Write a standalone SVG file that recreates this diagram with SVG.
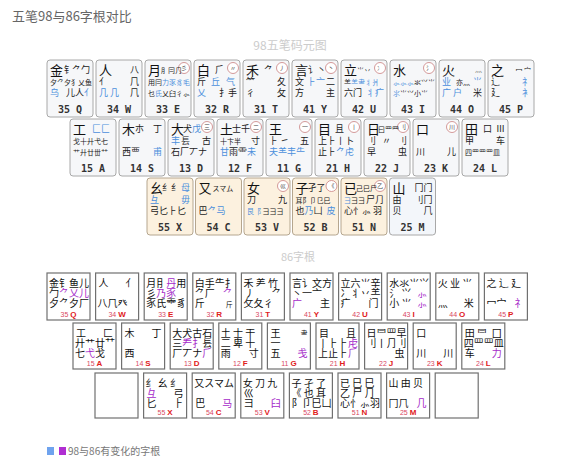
<svg xmlns="http://www.w3.org/2000/svg" width="580" height="473" viewBox="0 0 580 473">
<style>
text{font-family:"Noto Sans CJK SC","Noto Sans CJK JP",sans-serif}
.kb{fill:#f6f7f9;stroke:#a8a8a8;stroke-width:1}
.kw{fill:#fcf1df;stroke:#b5a68f;stroke-width:1}
.km{fill:#f3f6fa;stroke:#a8a8a8;stroke-width:1}
.m{font-size:13px;fill:#111}
.s{font-size:9px;fill:#222}
.t{font-size:7px;fill:#222}
.e{text-anchor:end}
.b{fill:#4b8fdc}
.p{fill:#a52bc9}
.lb{font-family:"DejaVu Sans Mono",monospace;font-size:10px;font-weight:bold;fill:#333;text-anchor:middle}
.ci{fill:#fff;stroke:#c98080;stroke-width:0.8}
.ct{font-size:6px;fill:#444;text-anchor:middle}
.k6{fill:#fff;stroke:#707070;stroke-width:1.2}
.c6{font-size:10px;fill:#111}
.l6{font-family:"Liberation Sans",sans-serif;text-anchor:middle}
.n6{font-size:7px;fill:#d9485f}
.r6{font-size:8px;font-weight:bold;fill:#e0201c}
.hd{font-size:12px;fill:#cccccc}
</style>

<text x="12" y="21" style="font-size:13px;fill:#666">五笔98与86字根对比</text>
<text x="290" y="50" class="hd" text-anchor="middle">98五笔码元图</text>
<text x="298" y="261" class="hd" style="font-size:11px" text-anchor="middle">86字根</text>

<!-- 98 row 1 -->
<g id="k98-Q" transform="translate(47,60)"><rect class="kb" width="46" height="57" rx="3"/>
<text><tspan class="m" x="3" y="15">金</tspan><tspan class="s" x="17" y="13">钅</tspan><tspan class="s e" x="43" y="13">⺈勹</tspan><tspan class="t" x="3" y="25">夕⺈夕犭乂鱼</tspan><tspan class="s b" x="3" y="36">乌</tspan><tspan class="s" x="19" y="36">儿人<tspan class="b">⺅</tspan></tspan></text>
<text class="lb" x="23" y="53">35 Q</text></g>

<g id="k98-W" transform="translate(96,60)"><rect class="kb" width="46" height="57" rx="3"/>
<text><tspan class="m" x="3" y="15">人</tspan><tspan class="s e" x="43" y="13">八</tspan><tspan class="s" x="3" y="25">亻</tspan><tspan class="s e" x="43" y="25">⺇</tspan><tspan class="s b" x="3" y="36">几 几</tspan><tspan class="s e" x="43" y="36">⺇</tspan></text>
<text class="lb" x="23" y="53">34 W</text></g>

<g id="k98-E" transform="translate(145,60)"><rect class="kb" width="46" height="57" rx="3"/>
<circle class="ci" cx="39" cy="8" r="5.5"/>
<text><tspan class="m" x="3" y="15">月</tspan><tspan class="t" x="16" y="13">⺼冃⺆</tspan><tspan class="ct" x="39" y="10">彡</tspan><tspan class="t" x="3" y="25">用冃<tspan class="b">力豕豸毛</tspan></tspan><tspan class="t" x="3" y="36">乜<tspan class="b">氏</tspan>乂臼彳⺗</tspan></text>
<text class="lb" x="23" y="53">33 E</text></g>

<g id="k98-R" transform="translate(194,60)"><rect class="kb" width="46" height="57" rx="3"/>
<circle class="ci" cx="39" cy="8" r="5.5"/>
<text><tspan class="m" x="3" y="15">白</tspan><tspan class="s" x="21" y="13">⺁</tspan><tspan class="ct" x="39" y="10">〃</tspan><tspan class="s" x="3" y="25">斤</tspan><tspan class="s b" x="17" y="25">丘</tspan><tspan class="s b" x="32" y="25">气</tspan><tspan class="s b" x="3" y="36">乂</tspan><tspan class="s e" x="43" y="36">扌手</tspan></text>
<text class="lb" x="23" y="53">32 R</text></g>

<g id="k98-T" transform="translate(243,60)"><rect class="kb" width="46" height="57" rx="3"/>
<circle class="ci" cx="39" cy="8" r="5.5"/>
<text><tspan class="m" x="3" y="15">禾</tspan><tspan class="s" x="21" y="13">⺈</tspan><tspan class="ct" x="39" y="10">丿</tspan><tspan class="s" x="3" y="25">⺮</tspan><tspan class="s e" x="43" y="25">夂</tspan><tspan class="s" x="3" y="36">彳</tspan><tspan class="s e" x="43" y="36">攵</tspan></text>
<text class="lb" x="23" y="53">31 T</text></g>

<g id="k98-Y" transform="translate(292,60)"><rect class="kb" width="46" height="57" rx="3"/>
<circle class="ci" cx="39" cy="8" r="5.5"/>
<text><tspan class="m" x="3" y="15">言</tspan><tspan class="s" x="16" y="13">讠丶</tspan><tspan class="ct" x="39" y="10">丶</tspan><tspan class="s" x="3" y="25">文</tspan><tspan class="s b" x="15" y="25">⺊亠</tspan><tspan class="s e" x="43" y="25">二</tspan><tspan class="s" x="3" y="36">方</tspan><tspan class="s e" x="43" y="36">主</tspan></text>
<text class="lb" x="23" y="53">41 Y</text></g>

<g id="k98-U" transform="translate(341,60)"><rect class="kb" width="46" height="57" rx="3"/>
<circle class="ci" cx="39" cy="8" r="5.5"/>
<text><tspan class="m" x="3" y="15">立</tspan><tspan class="t" x="16" y="13">⺌丷</tspan><tspan class="ct" x="39" y="10">冫</tspan><tspan class="t" x="3" y="25">⺷<tspan class="b">⺷⺻丬爿</tspan></tspan><tspan class="s" x="3" y="36">六门</tspan><tspan class="s b e" x="43" y="36">丬疒</tspan></text>
<text class="lb" x="23" y="53">42 U</text></g>

<g id="k98-I" transform="translate(390,60)"><rect class="kb" width="46" height="57" rx="3"/>
<circle class="ci" cx="39" cy="8" r="5.5"/>
<text><tspan class="m" x="3" y="15">水</tspan><tspan class="ct" x="39" y="10">氵</tspan><tspan class="t" x="3" y="25"><tspan class="b">⺗⺗⺗</tspan>氺⺍⺌</tspan><tspan class="t" x="3" y="36"><tspan class="b">⺢</tspan>⺌⺍小⺌</tspan></text>
<text class="lb" x="23" y="53">43 I</text></g>

<g id="k98-O" transform="translate(439,60)"><rect class="kb" width="46" height="57" rx="3"/>
<text><tspan class="m" x="3" y="15">火</tspan><tspan class="t e" x="43" y="12" style="fill:#777">灬</tspan><tspan class="s b" x="3" y="25">业</tspan><tspan class="t" x="17" y="25">亦⺣</tspan><tspan class="s b e" x="43" y="25">⺌</tspan><tspan class="s b" x="3" y="36">广 户</tspan><tspan class="s e" x="43" y="36">米</tspan></text>
<text class="lb" x="23" y="53">44 O</text></g>

<g id="k98-P" transform="translate(488,60)"><rect class="kb" width="46" height="57" rx="3"/>
<text><tspan class="m" x="3" y="15">之</tspan><tspan class="t e" x="43" y="13">冖 宀</tspan><tspan class="s" x="3" y="25">辶</tspan><tspan class="s b e" x="43" y="25">礻</tspan><tspan class="s" x="3" y="36">廴</tspan><tspan class="s b e" x="43" y="36">衤</tspan></text>
<text class="lb" x="23" y="53">45 P</text></g>

<!-- 98 row 2 -->
<g id="k98-A" transform="translate(70,119)"><rect class="kb" width="46" height="57" rx="3"/>
<text><tspan class="m" x="3" y="15">工</tspan><tspan class="s b" x="22" y="13">匚⼕</tspan><tspan class="t" x="3" y="25">戈十廾弋七</tspan><tspan class="t" x="3" y="36">艹廾廿丗⺿</tspan></text>
<text class="lb" x="23" y="53">15 A</text></g>

<g id="k98-S" transform="translate(119,119)"><rect class="kb" width="46" height="57" rx="3"/>
<text><tspan class="m" x="3" y="15">木</tspan><tspan class="s" x="16" y="13">朩</tspan><tspan class="s e" x="43" y="13">丁</tspan><tspan class="s" x="3" y="36">西覀</tspan><tspan class="s b e" x="43" y="36">甫</tspan></text>
<text class="lb" x="23" y="53">14 S</text></g>

<g id="k98-D" transform="translate(168,119)"><rect class="kb" width="46" height="57" rx="3"/>
<circle class="ci" cx="39" cy="8" r="5.5"/>
<text><tspan class="m" x="3" y="15">大</tspan><tspan class="s" x="15" y="13">犬<tspan class="b">戊</tspan></tspan><tspan class="ct" x="39" y="10">三</tspan><tspan class="s b" x="3" y="25">丰</tspan><tspan class="s" x="13" y="25">镸</tspan><tspan class="s e" x="43" y="25">古</tspan><tspan class="s" x="3" y="36">石厂丆ナ</tspan></text>
<text class="lb" x="23" y="53">13 D</text></g>

<g id="k98-F" transform="translate(217,119)"><rect class="kb" width="46" height="57" rx="3"/>
<circle class="ci" cx="39" cy="8" r="5.5"/>
<text><tspan class="m" x="3" y="15">土</tspan><tspan class="s" x="15" y="13">士千</tspan><tspan class="ct" x="39" y="10">二</tspan><tspan class="t" x="3" y="25">十卞半</tspan><tspan class="s e" x="43" y="25">寸</tspan><tspan class="s" x="3" y="36"><tspan class="b">甘</tspan>雨⻗<tspan class="b">未</tspan></tspan></text>
<text class="lb" x="23" y="53">12 F</text></g>

<g id="k98-G" transform="translate(266,119)"><rect class="kb" width="46" height="57" rx="3"/>
<circle class="ci" cx="39" cy="8" r="5.5"/>
<text><tspan class="m" x="3" y="15">王</tspan><tspan class="ct" x="39" y="10">一</tspan><tspan class="s" x="3" y="25">⺊ ㇀</tspan><tspan class="s e" x="43" y="25">五</tspan><tspan class="s b" x="3" y="36">夫⺷丰⺧</tspan></text>
<text class="lb" x="23" y="53">11 G</text></g>

<g id="k98-H" transform="translate(315,119)"><rect class="kb" width="46" height="57" rx="3"/>
<circle class="ci" cx="39" cy="8" r="5.5"/>
<text><tspan class="m" x="3" y="15">目</tspan><tspan class="s" x="20" y="13">且</tspan><tspan class="ct" x="39" y="10">丨</tspan><tspan class="s" x="3" y="25">上⺊丨卜</tspan><tspan class="s" x="3" y="36">止⺊<tspan class="b">⺈虍</tspan></tspan></text>
<text class="lb" x="23" y="53">21 H</text></g>

<g id="k98-J" transform="translate(364,119)"><rect class="kb" width="46" height="57" rx="3"/>
<circle class="ci" cx="39" cy="8" r="5.5"/>
<text><tspan class="m" x="3" y="15">日</tspan><tspan class="t" x="14" y="13">曰罒⺫</tspan><tspan class="ct" x="39" y="10">刂</tspan><tspan class="s" x="3" y="25">⺉</tspan><tspan class="s" x="18" y="25">〃</tspan><tspan class="s e" x="43" y="25">刂</tspan><tspan class="s" x="3" y="36">早</tspan><tspan class="s e" x="43" y="36">虫</tspan></text>
<text class="lb" x="23" y="53">22 J</text></g>

<g id="k98-K" transform="translate(413,119)"><rect class="kb" width="46" height="57" rx="3"/>
<circle class="ci" cx="39" cy="8" r="5.5"/>
<text><tspan class="m" x="3" y="15">口</tspan><tspan class="ct" x="39" y="10">川</tspan><tspan class="s" x="3" y="36">川</tspan><tspan class="s e" x="43" y="36">儿</tspan></text>
<text class="lb" x="23" y="53">23 K</text></g>

<g id="k98-L" transform="translate(462,119)"><rect class="kb" width="46" height="57" rx="3"/>
<text><tspan class="m" x="3" y="15">田</tspan><tspan class="s" x="21" y="13">口</tspan><tspan class="s e" x="43" y="13">Ⅲ</tspan><tspan class="s" x="3" y="25">甲</tspan><tspan class="s e" x="43" y="25">车</tspan><tspan class="t" x="3" y="36">四罒罒罒皿</tspan></text>
<text class="lb" x="23" y="53">24 L</text></g>

<!-- 98 row 3 -->
<g id="k98-X" transform="translate(147,178)"><rect class="kw" width="46" height="57" rx="3"/>
<text><tspan class="m" x="3" y="15">幺</tspan><tspan class="s" x="15" y="13">纟纟</tspan><tspan class="s b e" x="43" y="13">母</tspan><tspan class="s b" x="3" y="25">彑</tspan><tspan class="s b e" x="43" y="25">毋</tspan><tspan class="s" x="3" y="36">弓匕⺊匕</tspan></text>
<text class="lb" x="23" y="53">55 X</text></g>

<g id="k98-C" transform="translate(195.5,178)"><rect class="kw" width="46" height="57" rx="3"/>
<text><tspan class="m" x="3" y="15">又</tspan><tspan class="t" x="17" y="13">スマム</tspan><tspan class="s" x="3" y="36">巴<tspan class="b">⺈马</tspan></tspan></text>
<text class="lb" x="23" y="53">54 C</text></g>

<g id="k98-V" transform="translate(244,178)"><rect class="kw" width="46" height="57" rx="3"/>
<circle class="ci" cx="39" cy="8" r="5.5"/>
<text><tspan class="m" x="3" y="15">女</tspan><tspan class="ct" x="39" y="10">巛</tspan><tspan class="s" x="3" y="25">刀</tspan><tspan class="s e" x="43" y="25">九</tspan><tspan class="t" x="3" y="36"><tspan class="b">艮⻏</tspan> 彐⺕⺕</tspan></text>
<text class="lb" x="23" y="53">53 V</text></g>

<g id="k98-B" transform="translate(292.5,178)"><rect class="kw" width="46" height="57" rx="3"/>
<circle class="ci" cx="39" cy="8" r="5.5"/>
<text><tspan class="m" x="3" y="15">子</tspan><tspan class="s" x="15" y="13">孑了</tspan><tspan class="ct" x="39" y="10">《</tspan><tspan class="t" x="3" y="25">耳阝卩⺋巳</tspan><tspan class="s" x="3" y="36">也<tspan class="b">乃</tspan>凵</tspan><tspan class="s b e" x="43" y="36">皮</tspan></text>
<text class="lb" x="23" y="53">52 B</text></g>

<g id="k98-N" transform="translate(341,178)"><rect class="kw" width="46" height="57" rx="3"/>
<circle class="ci" cx="39" cy="8" r="5.5"/>
<text><tspan class="m" x="3" y="15">已</tspan><tspan class="t" x="15" y="13">己巳尸</tspan><tspan class="ct" x="39" y="10">乙</tspan><tspan class="t" x="3" y="25"><tspan class="b">⺕</tspan>⺕⺕</tspan><tspan class="s e" x="43" y="25">尸⺆</tspan><tspan class="s" x="3" y="36">心忄⺗ 羽</tspan></text>
<text class="lb" x="23" y="53">51 N</text></g>

<g id="k98-M" transform="translate(389.5,178)"><rect class="km" width="46" height="57" rx="3"/>
<text><tspan class="m" x="3" y="15">山</tspan><tspan class="s e" x="43" y="13">冂门</tspan><tspan class="s" x="3" y="25">由</tspan><tspan class="s e" x="43" y="25">刂冂</tspan><tspan class="s" x="3" y="36">贝</tspan><tspan class="s e" x="43" y="36">⺇</tspan></text>
<text class="lb" x="23" y="53">25 M</text></g>

<!-- 86 row 1 -->
<g id="k86-Q" transform="translate(47,273)"><rect class="k6" width="43" height="47"/>
<text class="c6"><tspan x="2" y="14">金钅鱼儿</tspan><tspan x="2" y="24">勹<tspan class="p">⺈乂儿</tspan></tspan><tspan x="2" y="34">夕⺈夕厂</tspan><tspan class="l6" x="21.5" y="44"><tspan class="n6">35 </tspan><tspan class="r6">Q</tspan></tspan></text></g>

<g id="k86-W" transform="translate(95.6,273)"><rect class="k6" width="43" height="47"/>
<text class="c6"><tspan x="3" y="14">人</tspan><tspan class="e" x="40" y="14">亻</tspan><tspan x="2" y="34">八⺇癶</tspan><tspan class="l6" x="21.5" y="44"><tspan class="n6">34 </tspan><tspan class="r6">W</tspan></tspan></text></g>

<g id="k86-E" transform="translate(144.2,273)"><rect class="k6" width="43" height="47"/>
<text class="c6"><tspan x="2" y="14">月⺝<tspan class="p">丹</tspan>用</tspan><tspan x="2" y="24">彡<tspan class="p">乃豕</tspan></tspan><tspan x="2" y="34">豕氏⻗豸</tspan><tspan class="l6" x="21.5" y="44"><tspan class="n6">33 </tspan><tspan class="r6">E</tspan></tspan></text></g>

<g id="k86-R" transform="translate(192.8,273)"><rect class="k6" width="43" height="47"/>
<text class="c6"><tspan x="2" y="14">白手⺧扌</tspan><tspan x="2" y="24">⺈厂</tspan><tspan class="p e" x="40" y="24">⺈</tspan><tspan x="2" y="34">斤</tspan><tspan class="e" x="40" y="34" style="font-size:7px">斤</tspan><tspan class="l6" x="21.5" y="44"><tspan class="n6">32 </tspan><tspan class="r6">R</tspan></tspan></text></g>

<g id="k86-T" transform="translate(241.4,273)"><rect class="k6" width="43" height="47"/>
<text class="c6"><tspan x="2" y="14">禾 ⺶ 竹</tspan><tspan x="3" y="24">丿</tspan><tspan class="e" x="40" y="24">⺈</tspan><tspan x="2" y="34">攵夂彳</tspan><tspan class="l6" x="21.5" y="44"><tspan class="n6">31 </tspan><tspan class="r6">T</tspan></tspan></text></g>

<g id="k86-Y" transform="translate(290,273)"><rect class="k6" width="43" height="47"/>
<text class="c6"><tspan x="2" y="14">言讠文方</tspan><tspan x="2" y="24">丶一亠</tspan><tspan class="p" x="2" y="34">广</tspan><tspan class="e" x="40" y="34">主</tspan><tspan class="l6" x="21.5" y="44"><tspan class="n6">41 </tspan><tspan class="r6">Y</tspan></tspan></text></g>

<g id="k86-U" transform="translate(338.6,273)"><rect class="k6" width="43" height="47"/>
<text class="c6"><tspan x="2" y="14">立六⺌辛</tspan><tspan x="2" y="24">冫⺦丷⺷</tspan><tspan x="2" y="34">疒</tspan><tspan class="e" x="40" y="34">门</tspan><tspan class="l6" x="21.5" y="44"><tspan class="n6">42 </tspan><tspan class="r6">U</tspan></tspan></text></g>

<g id="k86-I" transform="translate(387.2,273)"><rect class="k6" width="43" height="47"/>
<text class="c6"><tspan x="2" y="14">水氺⺌⺍</tspan><tspan x="2" y="24">氵 ⺍</tspan><tspan class="p e" x="40" y="24">⺗</tspan><tspan x="2" y="34">小 ⺌</tspan><tspan class="p e" x="40" y="34">⺗</tspan><tspan class="l6" x="21.5" y="44"><tspan class="n6">43 </tspan><tspan class="r6">I</tspan></tspan></text></g>

<g id="k86-O" transform="translate(435.8,273)"><rect class="k6" width="43" height="47"/>
<text class="c6"><tspan x="2" y="14">火 业 ⺌</tspan><tspan x="2" y="34">灬</tspan><tspan class="e" x="38" y="34">米</tspan><tspan class="l6" x="21.5" y="44"><tspan class="n6">44 </tspan><tspan class="r6">O</tspan></tspan></text></g>

<g id="k86-P" transform="translate(484.4,273)"><rect class="k6" width="43" height="47"/>
<text class="c6"><tspan x="2" y="14">之 辶 廴</tspan><tspan x="2" y="34">冖宀</tspan><tspan class="p e" x="40" y="34">⺭</tspan><tspan class="l6" x="21.5" y="44"><tspan class="n6">45 </tspan><tspan class="r6">P</tspan></tspan></text></g>

<!-- 86 row 2 -->
<g id="k86-A" transform="translate(73,323)"><rect class="k6" width="43" height="46"/>
<text class="c6"><tspan x="3" y="14">工</tspan><tspan class="e" x="40" y="14">匚</tspan><tspan x="2" y="24">廾艹廿⺿</tspan><tspan x="2" y="34">七<tspan class="p">弋</tspan>戈</tspan><tspan class="l6" x="21.5" y="43"><tspan class="n6">15 </tspan><tspan class="r6">A</tspan></tspan></text></g>

<g id="k86-S" transform="translate(121.6,323)"><rect class="k6" width="43" height="46"/>
<text class="c6"><tspan x="3" y="14">木</tspan><tspan class="e" x="40" y="14">丁</tspan><tspan x="3" y="34">西</tspan><tspan class="l6" x="21.5" y="43"><tspan class="n6">14 </tspan><tspan class="r6">S</tspan></tspan></text></g>

<g id="k86-D" transform="translate(170.2,323)"><rect class="k6" width="43" height="46"/>
<text class="c6"><tspan x="2" y="14">大犬古石</tspan><tspan x="2" y="24">三<tspan class="p">龵扌</tspan>镸</tspan><tspan x="2" y="34">厂丆ナ<tspan class="p">⺁</tspan></tspan><tspan class="l6" x="21.5" y="43"><tspan class="n6">13 </tspan><tspan class="r6">D</tspan></tspan></text></g>

<g id="k86-F" transform="translate(218.8,323)"><rect class="k6" width="43" height="46"/>
<text class="c6"><tspan x="2" y="14">土 士 干</tspan><tspan x="2" y="24">二 卑 十</tspan><tspan x="2" y="34">雨</tspan><tspan class="e" x="40" y="34">寸</tspan><tspan class="l6" x="21.5" y="43"><tspan class="n6">12 </tspan><tspan class="r6">F</tspan></tspan></text></g>

<g id="k86-G" transform="translate(267.4,323)"><rect class="k6" width="43" height="46"/>
<text class="c6"><tspan x="3" y="14">王</tspan><tspan class="e" x="40" y="13" style="font-size:7px">⺻</tspan><tspan x="3" y="24">一</tspan><tspan x="3" y="34">五</tspan><tspan class="p e" x="40" y="34">戋</tspan><tspan class="l6" x="21.5" y="43"><tspan class="n6">11 </tspan><tspan class="r6">G</tspan></tspan></text></g>

<g id="k86-H" transform="translate(316,323)"><rect class="k6" width="43" height="46"/>
<text class="c6"><tspan x="3" y="14">目</tspan><tspan class="e" x="40" y="14">且</tspan><tspan x="2" y="24">丨⺊⺊<tspan class="p">虍</tspan></tspan><tspan x="2" y="34">上止⺊<tspan class="p">⺁</tspan></tspan><tspan class="l6" x="21.5" y="43"><tspan class="n6">21 </tspan><tspan class="r6">H</tspan></tspan></text></g>

<g id="k86-J" transform="translate(364.6,323)"><rect class="k6" width="43" height="46"/>
<text class="c6"><tspan x="2" y="14">日⺜罒早</tspan><tspan x="2" y="24">刂丨⺆刂</tspan><tspan class="e" x="40" y="34">虫</tspan><tspan class="l6" x="21.5" y="43"><tspan class="n6">22 </tspan><tspan class="r6">J</tspan></tspan></text></g>

<g id="k86-K" transform="translate(413.2,323)"><rect class="k6" width="43" height="46"/>
<text class="c6"><tspan x="3" y="14">口</tspan><tspan x="3" y="34">川</tspan><tspan class="e" x="40" y="34">川</tspan><tspan class="l6" x="21.5" y="43"><tspan class="n6">23 </tspan><tspan class="r6">K</tspan></tspan></text></g>

<g id="k86-L" transform="translate(461.8,323)"><rect class="k6" width="43" height="46"/>
<text class="c6"><tspan x="3" y="14">田 ⺜</tspan><tspan class="e" x="40" y="14">囗</tspan><tspan x="2" y="24">四罒罒皿</tspan><tspan x="3" y="34">车</tspan><tspan class="p e" x="40" y="34">力</tspan><tspan class="l6" x="21.5" y="43"><tspan class="n6">24 </tspan><tspan class="r6">L</tspan></tspan></text></g>

<!-- 86 row 3 -->
<g id="k86-Z" transform="translate(95,373)"><rect class="k6" width="43" height="45"/></g>

<g id="k86-X" transform="translate(143.6,373)"><rect class="k6" width="43" height="45"/>
<text class="c6"><tspan x="2" y="14">纟 幺 纟</tspan><tspan class="p" x="3" y="24">彑</tspan><tspan class="e" x="40" y="24">弓</tspan><tspan x="3" y="34">匕</tspan><tspan class="e" x="40" y="34">⺊</tspan><tspan class="l6" x="21.5" y="42"><tspan class="n6">55 </tspan><tspan class="r6">X</tspan></tspan></text></g>

<g id="k86-C" transform="translate(192.2,373)"><rect class="k6" width="43" height="45"/>
<text class="c6"><tspan x="2" y="14">又スマム</tspan><tspan x="3" y="34">巴</tspan><tspan class="p e" x="40" y="34">马</tspan><tspan class="l6" x="21.5" y="42"><tspan class="n6">54 </tspan><tspan class="r6">C</tspan></tspan></text></g>

<g id="k86-V" transform="translate(240.8,373)"><rect class="k6" width="43" height="45"/>
<text class="c6"><tspan x="2" y="14">女 刀 九</tspan><tspan x="3" y="24">巛</tspan><tspan x="3" y="34">彐</tspan><tspan class="p e" x="40" y="34">臼</tspan><tspan class="l6" x="21.5" y="42"><tspan class="n6">53 </tspan><tspan class="r6">V</tspan></tspan></text></g>

<g id="k86-B" transform="translate(289.4,373)"><rect class="k6" width="43" height="45"/>
<text class="c6"><tspan x="2" y="14">子 孑 了</tspan><tspan x="2" y="24">《 也 耳</tspan><tspan x="2" y="34">阝卩巳凵</tspan><tspan class="l6" x="21.5" y="42"><tspan class="n6">52 </tspan><tspan class="r6">B</tspan></tspan></text></g>

<g id="k86-N" transform="translate(338,373)"><rect class="k6" width="43" height="45"/>
<text class="c6"><tspan x="2" y="14">已 巳 ⺒</tspan><tspan x="2" y="24">乙 尸 ⺆</tspan><tspan x="2" y="34">心忄⺗羽</tspan><tspan class="l6" x="21.5" y="42"><tspan class="n6">51 </tspan><tspan class="r6">N</tspan></tspan></text></g>

<g id="k86-M" transform="translate(386.6,373)"><rect class="k6" width="43" height="45"/>
<text class="c6"><tspan x="2" y="14">山 由 贝</tspan><tspan x="2" y="34">冂⺇</tspan><tspan class="p e" x="40" y="34">几</tspan><tspan class="l6" x="21.5" y="42"><tspan class="n6">25 </tspan><tspan class="r6">M</tspan></tspan></text></g>

<g id="k86-end" transform="translate(435.2,373)"><rect class="k6" width="43" height="45"/></g>

<!-- legend -->
<g id="legend">
<rect x="47" y="447" width="7" height="8" fill="#6fa3ee"/>
<rect x="59" y="447" width="7" height="8" fill="#b02ed2"/>
<text x="68" y="455" style="font-size:10px;fill:#777">98与86有变化的字根</text>
</g>
</svg>
